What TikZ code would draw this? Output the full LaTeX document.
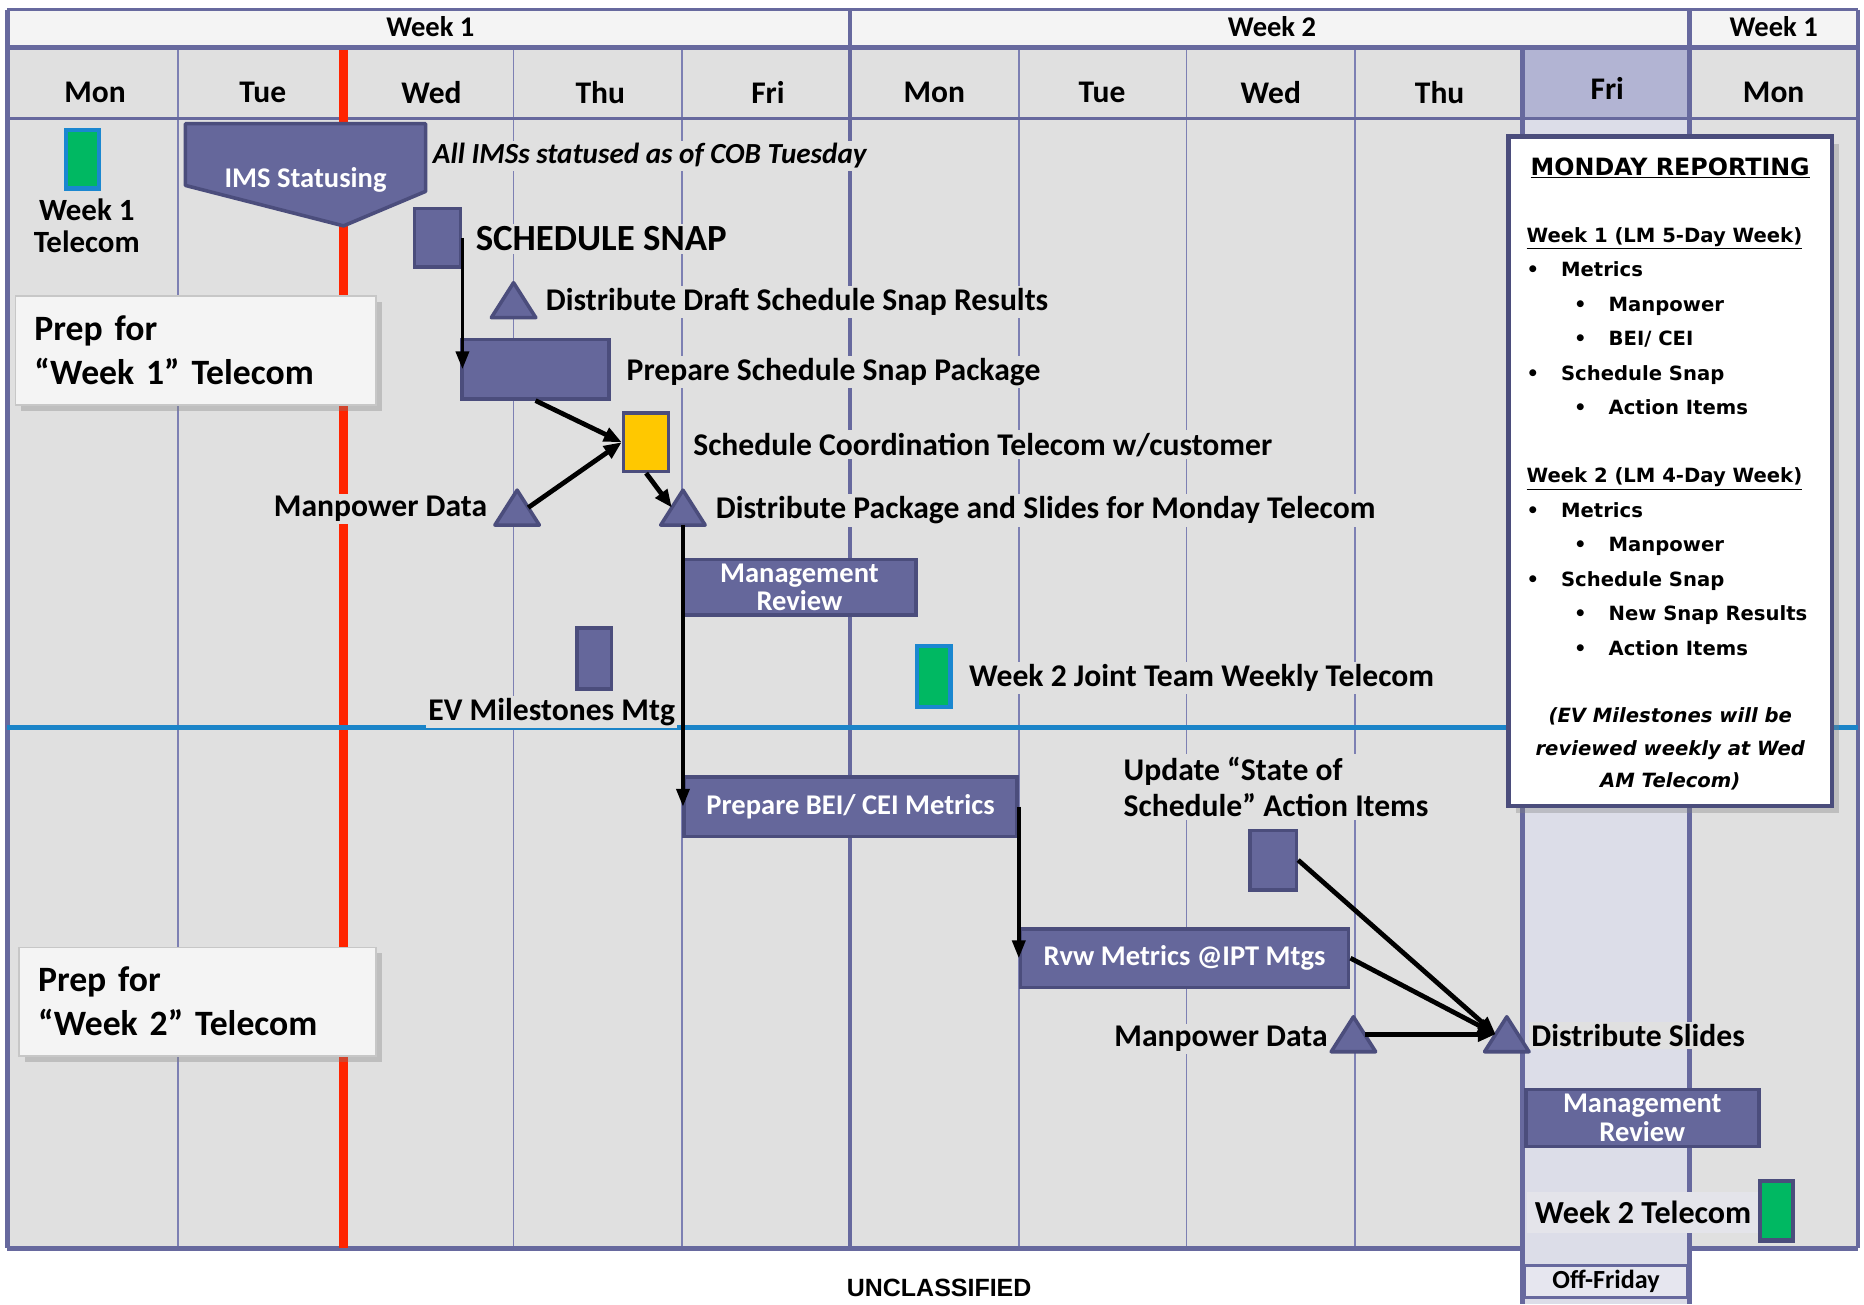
\documentclass[tikz,border=0pt]{standalone}
\usepackage{fontspec}
\setmainfont{Carlito}
\newfontfamily\verdfont{DejaVu Sans}
\newfontfamily\arialfont{Liberation Sans}
\usetikzlibrary{arrows.meta,positioning,calc,shadows}

\definecolor{bodygray}{HTML}{E0E0E0}
\definecolor{headwhite}{HTML}{F4F4F4}
\definecolor{gridthin}{HTML}{7D80B3}
\definecolor{gridthick}{HTML}{67699E}
\definecolor{taskfill}{HTML}{65679B}
\definecolor{taskdark}{HTML}{4B4D7C}
\definecolor{todayred}{HTML}{FF2400}
\definecolor{splitblue}{HTML}{1B84C8}
\definecolor{telgreen}{HTML}{00B862}
\definecolor{telblue}{HTML}{1A87D0}
\definecolor{coordyellow}{HTML}{FFC800}
\definecolor{frihead}{HTML}{B2B4D3}
\definecolor{fribody}{HTML}{DCDDE8}
\definecolor{offfri}{HTML}{E6E6EF}

\newcommand{\lvlone}{\makebox[29pt][l]{\textbullet}}
\newcommand{\lvltwo}{\hspace*{40pt}\makebox[29pt][l]{\textbullet}}

\tikzset{
  lbl/.style={font=\fontsize{26.6}{28}\selectfont\bfseries, fill=bodygray, inner sep=2pt},
  task/.style={draw=taskdark, fill=taskfill, line width=3pt, inner sep=0pt},
  tasktext/.style={task, text=white, font=\fontsize{24}{24}\selectfont\bfseries, align=center},
  telecom/.style={draw=telblue, fill=telgreen, line width=3.5pt, inner sep=0pt, minimum width=28pt, minimum height=50pt},
  mile/.style={minimum width=37pt, minimum height=29pt, inner sep=0pt},
  milefill/.style={fill=taskfill, draw=taskdark, line width=3pt, line join=round},
  link/.style={line width=4pt, -{Triangle[length=15pt,width=12pt]}},
  vlink/.style={line width=3pt, -{Triangle[length=15pt,width=11pt]}},
  prepbox/.style={draw=black!22, line width=1.5pt, fill=headwhite, inner xsep=16pt,
    drop shadow={shadow xshift=5pt, shadow yshift=-5pt, opacity=0.35},
    align=left, font=\fontsize{30}{37}\selectfont\bfseries},
  dayname/.style={font=\fontsize{26.5}{26}\selectfont\bfseries},
  weekname/.style={font=\fontsize{24}{24}\selectfont\bfseries},
}

\begin{document}
\begin{tikzpicture}[x=1pt,y=-1pt]
\useasboundingbox[fill=white] (0,0) rectangle (1568,1097);

% calendar background
\fill[headwhite] (6,8) rectangle (1563,40);
\fill[bodygray] (6,40) rectangle (1563,1050);
\fill[frihead] (1281,40) rectangle (1421,100);
\fill[fribody] (1281,100) rectangle (1421,1097);

% day lines and week lines
\foreach \x in {150,432,574,857,998,1140}
  \draw[gridthin, line width=1.5pt] (\x,40) -- (\x,1050);
\draw[gridthick, line width=3pt] (6,8) -- (1563,8);
\draw[gridthick, line width=4pt] (6,40) -- (1563,40);
\draw[gridthick, line width=2.5pt] (6,100) -- (1563,100);
\draw[gridthick, line width=4pt] (6,1050) -- (1281,1050) (1421,1050) -- (1563,1050);
\foreach \x/\a/\b in {6/8/1050, 715/8/1050, 1281/40/1097, 1421/8/1097, 1563/8/1050}
  \draw[gridthick, line width=4pt] (\x,\a) -- (\x,\b);

% today and week split
\draw[todayred, line width=7pt] (289,42) -- (289,1050);
\draw[splitblue, line width=4pt] (6,612) -- (1563,612);

% headers
\node[weekname] (wk1) at (362,22) {Week 1};
\node[weekname] (wk2) at (1070,22) {Week 2};
\node[weekname] (wk3) at (1492,22) {Week 1};
\foreach \x/\d in {80/Mon,221/Tue,363/Wed,505/Thu,646/Fri,786/Mon,927/Tue,1069/Wed,1211/Thu,1492/Mon}
  \node[dayname] (day\x) at (\x,78) {\d};
\node[dayname] (day1352) at (1352,74) {Fri};

% prep boxes
\node[prepbox, minimum width=303pt, minimum height=92pt, text width=271pt] (prep1) at (164.5,295) {Prep for\\“Week 1” Telecom};
\node[prepbox, minimum width=300pt, minimum height=91pt, text width=268pt] (prep2) at (166,842.5) {Prep for\\“Week 2” Telecom};

% week 1 items
\node[telecom, minimum height=49pt] (w1tel) at (69.5,134) {};
\node[lbl, fill=none, align=center, font=\fontsize{26}{27}\selectfont\bfseries] (w1tellbl) at (73,190) {Week 1\\Telecom};

\draw[milefill] (156,104) -- (358,104) -- (358,161) -- (289,190) -- (156,156) -- cycle;
\node[text=white, font=\fontsize{24}{24}\selectfont\bfseries] (ims) at (257,151) {IMS Statusing};
\node[lbl, anchor=west, font=\fontsize{24.5}{26}\selectfont\bfseries\itshape] (imslbl) at (362,131) {All IMSs statused as of COB Tuesday};

\node[task, minimum width=39pt, minimum height=49pt] (snap) at (368,200) {};
\node[lbl, anchor=west, font=\fontsize{31}{33}\selectfont\bfseries] (snaplbl) at (398,201) {SCHEDULE SNAP};

\node[mile] (dd) at (432,252.5) {};
\node[lbl, anchor=west] (ddlbl) at (457,254) {Distribute Draft Schedule Snap Results};

\node[task, minimum width=124pt, minimum height=50pt] (pkg) at (450.5,310.5) {};
\node[lbl, anchor=west] (pkglbl) at (525,313) {Prepare Schedule Snap Package};

\node[task, fill=coordyellow, minimum width=38pt, minimum height=49pt] (coord) at (543.5,372) {};
\node[lbl, anchor=west] (coordlbl) at (581,374) {Schedule Coordination Telecom w/customer};

\node[mile] (mp1) at (435,427) {};
\node[lbl, anchor=east] (mp1lbl) at (412,428) {Manpower Data};

\node[mile] (dp) at (574.5,427) {};
\node[lbl, anchor=west] (dplbl) at (600,429.5) {Distribute Package and Slides for Monday Telecom};

\node[tasktext, minimum width=196pt, minimum height=47pt] (mgmt1) at (672.5,494) {Management\\Review};

\node[task, minimum width=29pt, minimum height=51pt] (evm) at (500,554) {};
\node[lbl, anchor=east] (evmlbl) at (570,599) {EV Milestones Mtg};

\node[telecom, minimum height=51pt] (w2joint) at (785.5,569) {};
\node[lbl, anchor=west] (w2jointlbl) at (813,570) {Week 2 Joint Team Weekly Telecom};

% week 2 items
\node[tasktext, minimum width=280pt, minimum height=50pt] (bei) at (715.5,678.5) {Prepare BEI/ CEI Metrics};
\node[tasktext, minimum width=276pt, minimum height=49pt] (rvw) at (996.5,806) {Rvw Metrics @IPT Mtgs};

\node[lbl, anchor=west, align=left, font=\fontsize{26.6}{31}\selectfont\bfseries] (updlbl) at (943,662) {Update “State of\\Schedule” Action Items};
\node[task, minimum width=39pt, minimum height=50pt] (upd) at (1071,723.5) {};

\node[mile] (mp2) at (1138.5,870) {};
\node[lbl, anchor=east] (mp2lbl) at (1119,874) {Manpower Data};
\node[mile] (ds) at (1267.5,870) {};
\node[lbl, anchor=west] (dslbl) at (1286,871) {Distribute Slides};

\node[tasktext, minimum width=196pt, minimum height=48pt] (mgmt2) at (1381.5,940.5) {Management\\Review};

\node[lbl, fill=offfri!70!bodygray, anchor=west, inner xsep=7pt, inner ysep=8pt, font=\fontsize{27}{28}\selectfont\bfseries] (w2tellbl) at (1284,1020) {Week 2 Telecom};
\node[telecom, draw=taskdark, minimum height=50pt] (w2tel) at (1494.5,1018.5) {};

\node[draw=gridthick, line width=3pt, fill=offfri, minimum width=137pt, minimum height=27pt, inner sep=0pt, font=\fontsize{22}{22}\selectfont\bfseries] (offday) at (1351,1078) {Off-Friday};

% milestones
\foreach \m in {dd,mp1,dp,mp2,ds}
  \draw[milefill] (\m.south west) -- (\m.north) -- (\m.south east) -- cycle;

% monday reporting
\node[draw=taskdark, line width=4pt, fill=white, minimum width=272pt, minimum height=563pt,
  drop shadow={shadow xshift=6pt, shadow yshift=-6pt, opacity=0.35}] (report) at (1405,396.5) {};
\node[font=\verdfont\bfseries\fontsize{20}{24}\selectfont] (rtitle) at (1405,141) {\underline{MONDAY REPORTING}};
\node[anchor=north west, inner sep=0pt, align=left, font=\verdfont\bfseries\fontsize{16.5}{29}\selectfont] (rlist) at (1284,191) {%
\underline{Week 1 (LM 5-Day Week)}\\
\lvlone Metrics\\
\lvltwo Manpower\\
\lvltwo BEI/ CEI\\
\lvlone Schedule Snap\\
\lvltwo Action Items\\[28.5pt]
\underline{Week 2 (LM 4-Day Week)}\\
\lvlone Metrics\\
\lvltwo Manpower\\
\lvlone Schedule Snap\\
\lvltwo New Snap Results\\
\lvltwo Action Items};
\node[align=center, font=\verdfont\bfseries\itshape\fontsize{16.5}{27}\selectfont] (rnote) at (1405,630) {(EV Milestones will be\\reviewed weekly at Wed\\AM Telecom)};

% links
\draw[vlink] (snap.east) -- (snap.east |- pkg.west);
\draw[link] (pkg.south) -- (coord.west);
\draw[link] ($(mp1.north)!0.5!(mp1.south east)$) -- (coord.west);
\draw[link] (coord.south) -- ($(dp.north)!0.5!(dp.south west)$);
\draw[vlink] (dp.south) -- (dp.south |- bei.west);
\draw[vlink] (bei.east) -- (bei.east |- rvw.west);
\draw[link] (upd.east) -- ($(ds.north)!0.5!(ds.south west)$);
\draw[link] (rvw.east) -- ($(ds.north)!0.5!(ds.south west)$);
\draw[link] ($(mp2.north)!0.5!(mp2.south east)$) -- ($(ds.north)!0.5!(ds.south west)$);

\node[font=\arialfont\bfseries\fontsize{21}{21}\selectfont] (unclass) at (790,1083) {UNCLASSIFIED};
\end{tikzpicture}
\end{document}
